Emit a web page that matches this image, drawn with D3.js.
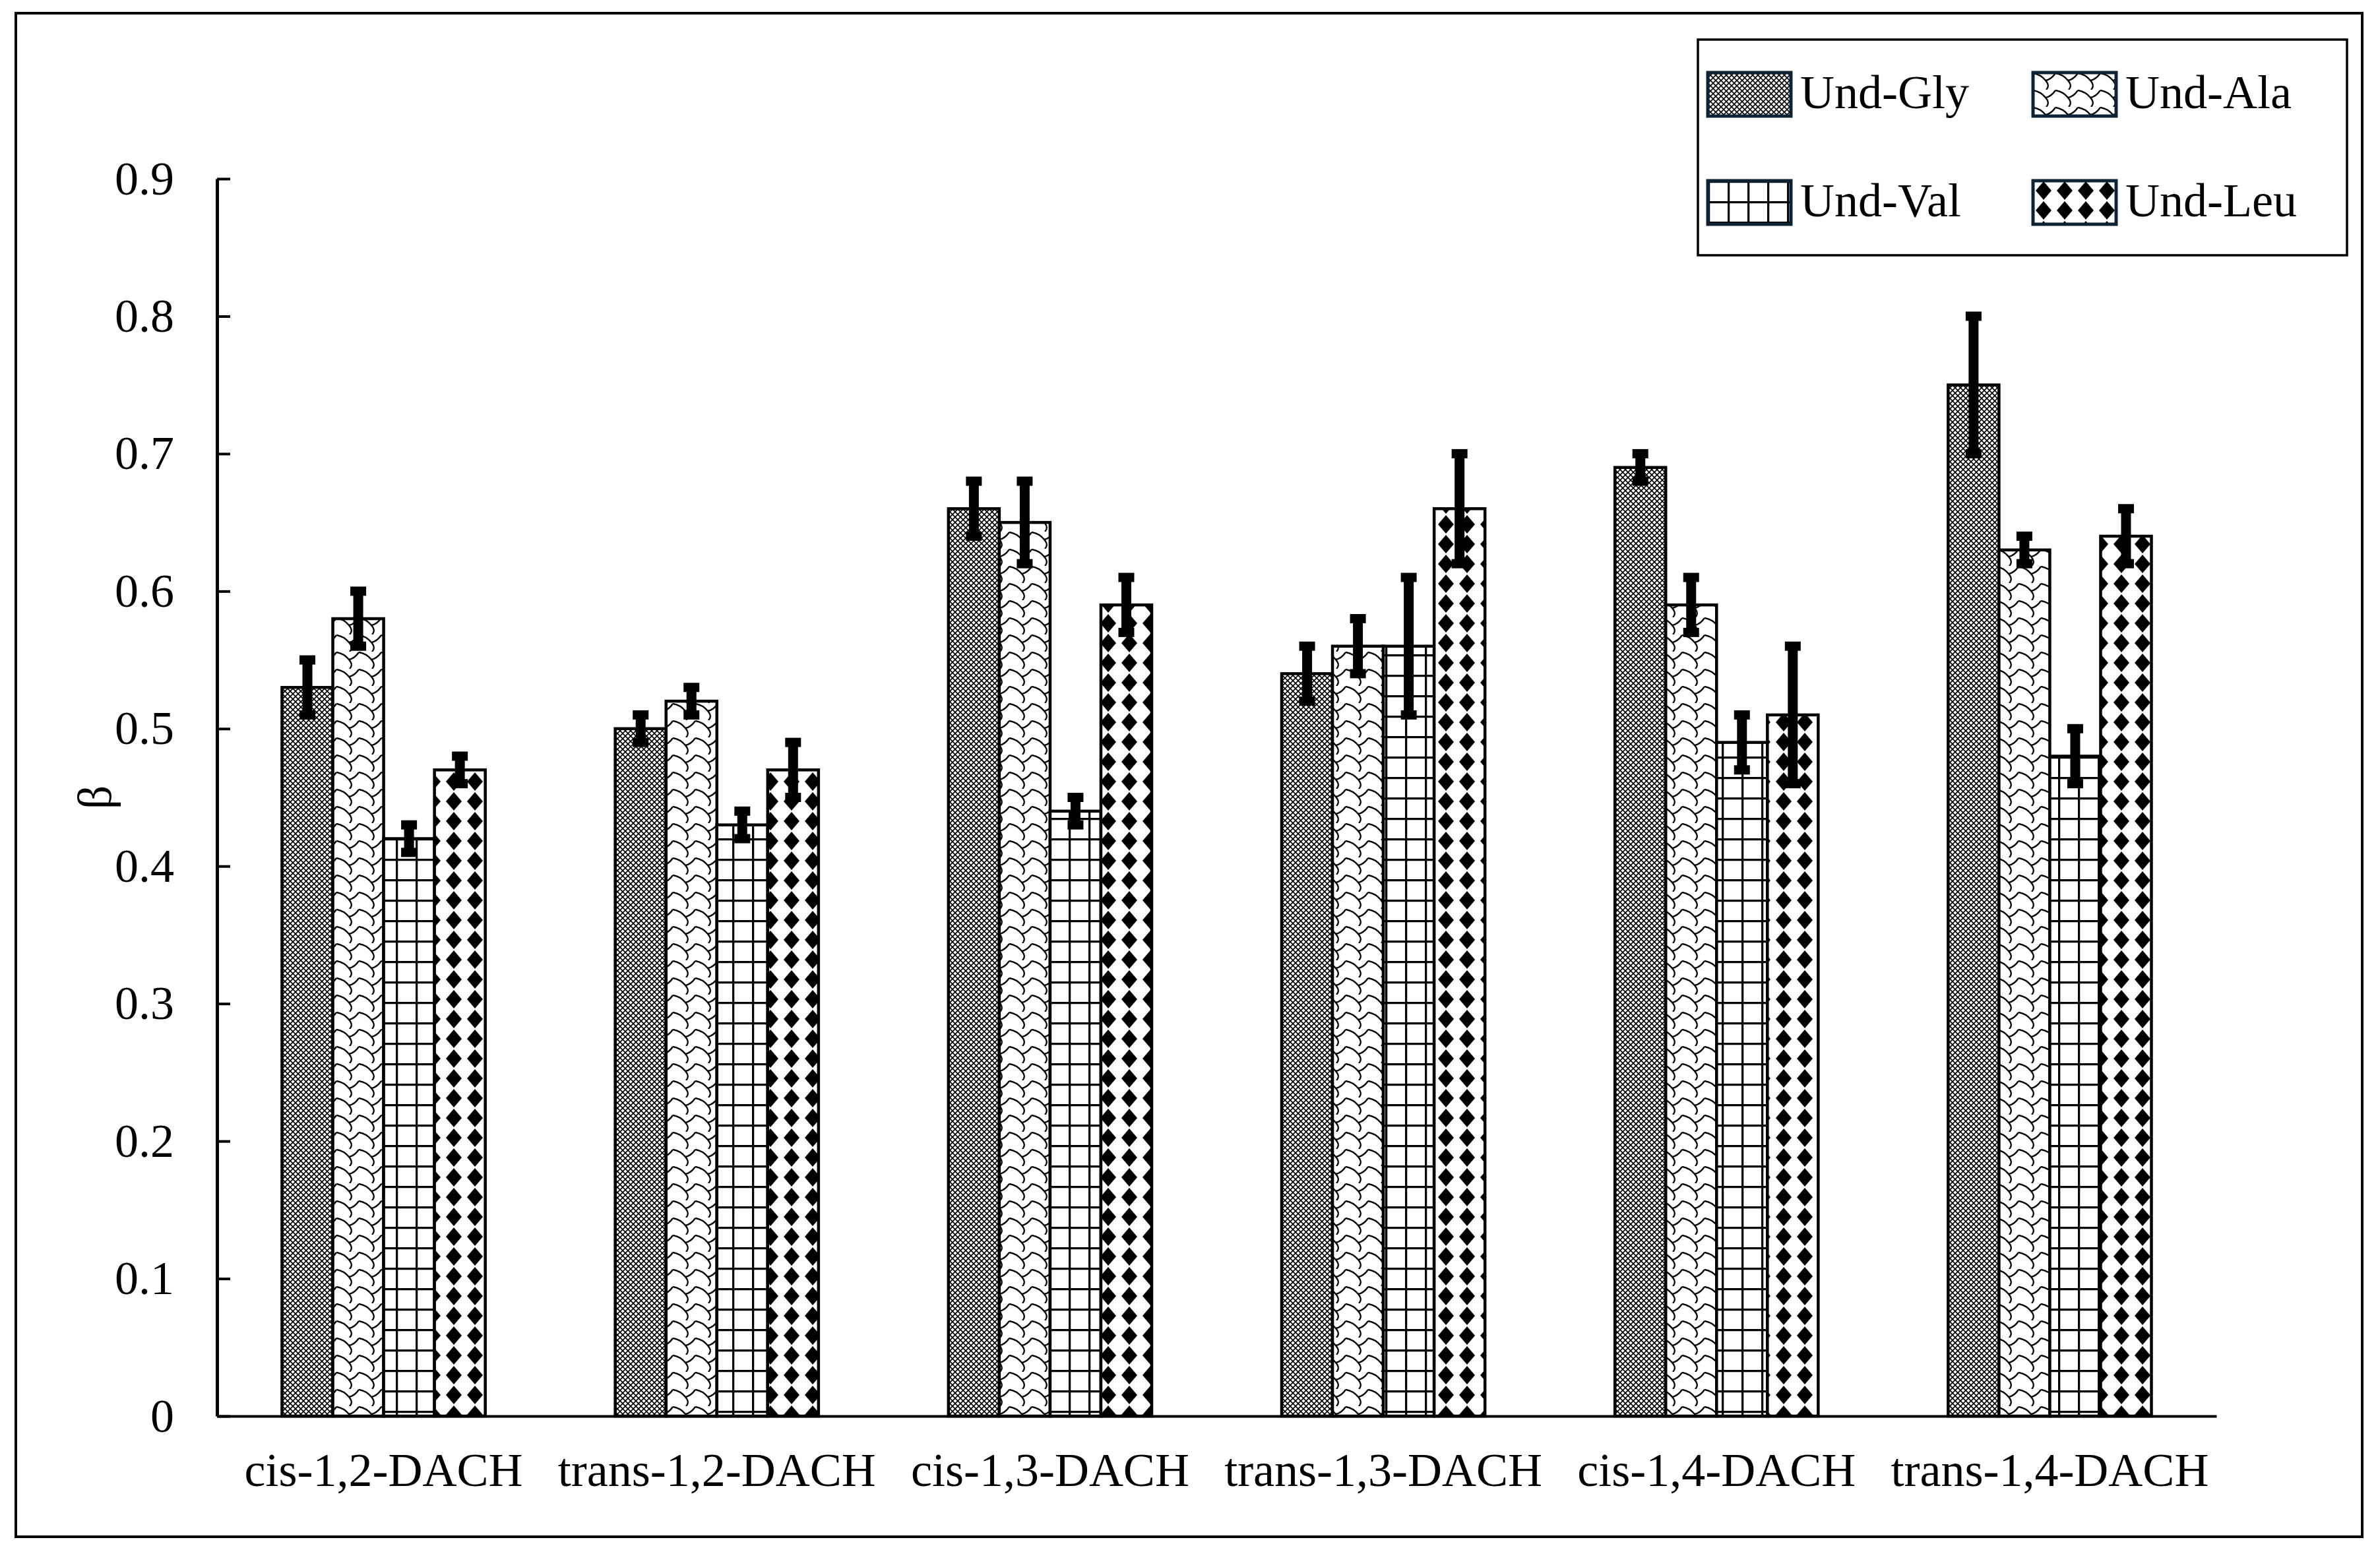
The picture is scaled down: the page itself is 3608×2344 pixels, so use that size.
<!DOCTYPE html>
<html>
<head>
<meta charset="utf-8">
<script src="https://cdn.jsdelivr.net/npm/d3@7/dist/d3.min.js"></script>
<style>
  html, body { margin: 0; padding: 0; background: #fff; }
  svg text { font-family: "Liberation Serif", "Times New Roman", serif; fill: #000; }
</style>
</head>
<body>
<script>
// chart data
var categories = ["cis-1,2-DACH", "trans-1,2-DACH", "cis-1,3-DACH", "trans-1,3-DACH", "cis-1,4-DACH", "trans-1,4-DACH"];
var seriesNames = ["Und-Gly", "Und-Ala", "Und-Val", "Und-Leu"];
var glyValues = [0.53, 0.50, 0.66, 0.54, 0.69, 0.75];
var alaValues = [0.58, 0.52, 0.65, 0.56, 0.59, 0.63];
var valValues = [0.42, 0.43, 0.44, 0.56, 0.49, 0.48];
var leuValues = [0.47, 0.47, 0.59, 0.66, 0.51, 0.64];
var glyErrors = [0.02, 0.01, 0.02, 0.02, 0.01, 0.05];
var alaErrors = [0.02, 0.01, 0.03, 0.02, 0.02, 0.01];
var valErrors = [0.01, 0.01, 0.01, 0.05, 0.02, 0.02];
var leuErrors = [0.01, 0.02, 0.02, 0.04, 0.05, 0.02];
var yTicks = [0, 0.1, 0.2, 0.3, 0.4, 0.5, 0.6, 0.7, 0.8, 0.9];
var yLabel = "\u03b2";

var values = [glyValues, alaValues, valValues, leuValues];
var errors = [glyErrors, alaErrors, valErrors, leuErrors];

var W = 3608, H = 2344;
var plotL = 329, plotR = 3360, plotB = 2147, plotT = 271;

var svg = d3.select("body").append("svg")
    .attr("width", W)
    .attr("height", H);

// hatch patterns, one per series
var defs = svg.append("defs");

function pattern(id, w, h) {
    var p = defs.append("pattern")
        .attr("id", id)
        .attr("patternUnits", "userSpaceOnUse")
        .attr("width", w)
        .attr("height", h);
    p.append("rect").attr("width", w).attr("height", h).attr("fill", "#fff");
    return p;
}

var pGly = pattern("p-gly", 8, 8);
pGly.append("path")
    .attr("d", "M0,0L8,8M8,0L0,8")
    .attr("stroke", "#000").attr("stroke-width", 1.6).attr("fill", "none");

var pAla = pattern("p-ala", 34, 26);
pAla.append("path")
    .attr("d", "M0,1C8,2 14,6 19,12C24,18 24,22 20,26M19,12C25,11 30,7 34,1")
    .attr("stroke", "#000").attr("stroke-width", 2.4).attr("fill", "none");

var pVal = pattern("p-val", 30, 31);
pVal.append("path")
    .attr("d", "M1.5,0V31M0,1.5H30")
    .attr("stroke", "#000").attr("stroke-width", 3.5).attr("fill", "none");

var pLeu = pattern("p-leu", 32, 30);
pLeu.append("path")
    .attr("d", "M16,1L28,15L16,29L4,15Z")
    .attr("fill", "#000");

var fills = ["url(#p-gly)", "url(#p-ala)", "url(#p-val)", "url(#p-leu)"];

// scales
var x0 = d3.scaleBand()
    .domain(categories)
    .range([plotL, plotR])
    .paddingInner(0.39)
    .paddingOuter(0.195);

var x1 = d3.scaleBand()
    .domain(seriesNames)
    .range([0, x0.bandwidth()]);

var y = d3.scaleLinear()
    .domain([0, 0.9])
    .range([plotB, plotT]);

// outer frame
svg.append("rect")
    .attr("x", 24).attr("y", 20)
    .attr("width", 3557).attr("height", 2310)
    .attr("fill", "none").attr("stroke", "#000").attr("stroke-width", 4);

// bars
var rows = [];
categories.forEach(function (c, i) {
    seriesNames.forEach(function (s, j) {
        rows.push({ cat: c, series: s, j: j, v: values[j][i], e: errors[j][i] });
    });
});

var g = svg.append("g");

g.selectAll("rect.bar")
    .data(rows)
    .enter().append("rect")
    .attr("class", "bar")
    .attr("x", function (d) { return x0(d.cat) + x1(d.series); })
    .attr("y", function (d) { return y(d.v); })
    .attr("width", x1.bandwidth())
    .attr("height", function (d) { return plotB - y(d.v); })
    .attr("fill", function (d) { return fills[d.j]; })
    .attr("stroke", "#000")
    .attr("stroke-width", 4.5);

// error bars
var eb = g.selectAll("g.err")
    .data(rows)
    .enter().append("g")
    .attr("class", "err")
    .attr("transform", function (d) {
        return "translate(" + (x0(d.cat) + x1(d.series) + x1.bandwidth() / 2) + ",0)";
    });

eb.append("line")
    .attr("y1", function (d) { return y(d.v + d.e); })
    .attr("y2", function (d) { return y(d.v - d.e); })
    .attr("stroke", "#000").attr("stroke-width", 15);

eb.selectAll("line.cap")
    .data(function (d) { return [d.v + d.e, d.v - d.e]; })
    .enter().append("line")
    .attr("class", "cap")
    .attr("x1", -12).attr("x2", 12)
    .attr("y1", function (v) { return y(v); })
    .attr("y2", function (v) { return y(v); })
    .attr("stroke", "#000").attr("stroke-width", 14);

// y axis
var yAxis = svg.append("g")
    .attr("transform", "translate(" + plotL + ",0)")
    .call(d3.axisLeft(y)
        .tickValues(yTicks)
        .tickFormat(function (d) { return d === 0 ? "0" : d.toFixed(1); })
        .tickSizeInner(-20)
        .tickSizeOuter(0)
        .tickPadding(65));
yAxis.select(".domain").attr("stroke", "#000").attr("stroke-width", 5);
yAxis.selectAll(".tick line").attr("stroke", "#000").attr("stroke-width", 4);
yAxis.selectAll(".tick text")
    .attr("font-size", 72)
    .attr("font-family", "Liberation Serif, Times New Roman, serif");

// x axis
var xAxis = svg.append("g")
    .attr("transform", "translate(0," + plotB + ")")
    .call(d3.axisBottom(x0)
        .tickSize(0)
        .tickPadding(55));
xAxis.select(".domain").attr("stroke", "#000").attr("stroke-width", 4);
xAxis.selectAll(".tick text")
    .attr("font-size", 72)
    .attr("font-family", "Liberation Serif, Times New Roman, serif");

// y label
svg.append("text")
    .attr("transform", "translate(143," + ((plotT + plotB) / 2) + ") rotate(-90)")
    .attr("text-anchor", "middle")
    .attr("dy", "0.35em")
    .attr("font-size", 72)
    .text(yLabel);

// legend
var legend = svg.append("g");
legend.append("rect")
    .attr("x", 2574).attr("y", 60)
    .attr("width", 984).attr("height", 327)
    .attr("fill", "#fff").attr("stroke", "#000").attr("stroke-width", 3.5);

var legendPos = [[2589, 110], [3082, 110], [2589, 274], [3082, 274]];

var items = legend.selectAll("g.item")
    .data(seriesNames)
    .enter().append("g")
    .attr("class", "item")
    .attr("transform", function (d, i) { return "translate(" + legendPos[i][0] + "," + legendPos[i][1] + ")"; });

items.append("rect")
    .attr("width", 126).attr("height", 66)
    .attr("fill", function (d, i) { return fills[i]; })
    .attr("stroke", "#0d2233").attr("stroke-width", 5);

items.append("text")
    .attr("x", 140)
    .attr("y", 54)
    .attr("font-size", 72)
    .text(function (d) { return d; });
</script>
</body>
</html>
